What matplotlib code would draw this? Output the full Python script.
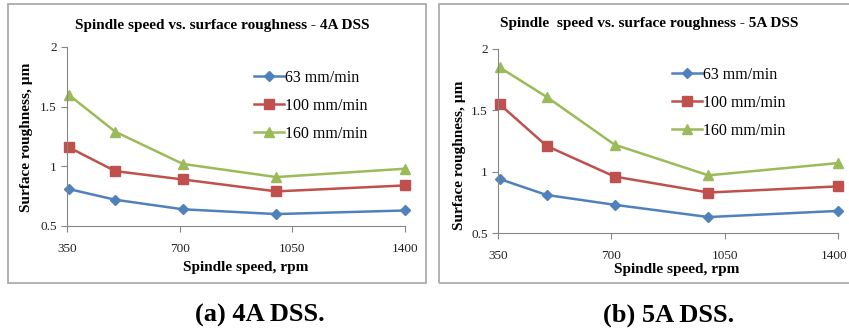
import matplotlib
matplotlib.use("Agg")
import matplotlib.pyplot as plt
from matplotlib.patches import Rectangle
from matplotlib.transforms import ScaledTranslation

plt.rcParams['font.family'] = ['Liberation Serif', 'DejaVu Serif']

# spindle speeds (rpm)
speeds = [355, 500, 710, 1000, 1400]
feeds = ["63 mm/min", "100 mm/min", "160 mm/min"]

# surface roughness, um - 4A DSS
ra_4a_63 = [0.81, 0.72, 0.64, 0.60, 0.63]
ra_4a_100 = [1.16, 0.96, 0.89, 0.79, 0.84]
ra_4a_160 = [1.60, 1.29, 1.02, 0.91, 0.98]

# surface roughness, um - 5A DSS
ra_5a_63 = [0.94, 0.81, 0.73, 0.63, 0.68]
ra_5a_100 = [1.55, 1.21, 0.96, 0.83, 0.88]
ra_5a_160 = [1.85, 1.61, 1.22, 0.97, 1.07]

xticks = [350, 700, 1050, 1400]
yticks = [0.5, 1, 1.5, 2]

colors = ["#4F81BD", "#C0504D", "#9BBB59"]
markers = ["D", "s", "^"]
msizes = [5.5, 7, 7.5]

W, H = 849, 328
fig = plt.figure(figsize=(W / 100, H / 100), dpi=100)


def px(x0, y0, x1, y1):
    # pixel box -> figure fraction [left, bottom, width, height]
    return [x0 / W, 1 - y1 / H, (x1 - x0) / W, (y1 - y0) / H]


# panel frames
for (x0, y0, x1, y1) in [(8, 4, 426, 283), (439, 4, 860, 283)]:
    fig.patches.append(Rectangle((x0 / W, 1 - y1 / H), (x1 - x0) / W, (y1 - y0) / H,
                                 transform=fig.transFigure, fill=False,
                                 edgecolor="#A6A6A6", linewidth=1.2))

panels = [
    dict(box=(67, 47, 405, 226), data=[ra_4a_63, ra_4a_100, ra_4a_160],
         title="Spindle speed vs. surface roughness - 4A DSS", tpos=(222, 25),
         xl=(246, 268), yl=(27, 137), leg=(254, 70), cap="(a) 4A DSS.", cpos=(260, 315)),
    dict(box=(498, 49, 838, 233), data=[ra_5a_63, ra_5a_100, ra_5a_160],
         title="Spindle  speed vs. surface roughness - 5A DSS", tpos=(649, 23),
         xl=(677, 269), yl=(460, 155), leg=(672, 67), cap="(b) 5A DSS.", cpos=(669, 315)),
]

axes = []
for p in panels:
    ax = fig.add_axes(px(*p["box"]))
    axes.append(ax)
    for vals, lab, c, m, ms in zip(p["data"], feeds, colors, markers, msizes):
        ax.plot(speeds, vals, color=c, marker=m, markersize=ms, linewidth=1.8,
                label=lab, clip_on=False)
    ax.set_xlim(350, 1400)
    ax.set_ylim(0.5, 2)
    ax.set_xticks(xticks)
    ax.set_yticks(yticks)
    ax.set_yticklabels(["0.5", "1", "1.5", "2"])
    for s in ["top", "right"]:
        ax.spines[s].set_visible(False)
    for s in ["left", "bottom"]:
        ax.spines[s].set_color("#868686")
    ax.tick_params(colors="#868686", labelcolor="#222222", labelsize=9.5, length=4, width=0.8)
    ax.tick_params(axis="x", pad=8)

    ax.legend(loc="upper left", bbox_to_anchor=(p["leg"][0] / W, 1 - p["leg"][1] / H),
              bbox_transform=fig.transFigure, frameon=False, fontsize=11.5,
              handlelength=1.9, handletextpad=0.05, labelspacing=0.75, borderpad=0,
              borderaxespad=0)

    fig.text(p["tpos"][0] / W, 1 - p["tpos"][1] / H, p["title"], ha="center", va="center",
             fontsize=11, fontweight="bold")
    fig.text(p["xl"][0] / W, 1 - p["xl"][1] / H, "Spindle speed, rpm", ha="center",
             va="center", fontsize=11, fontweight="bold")
    fig.text(p["yl"][0] / W, 1 - p["yl"][1] / H, "Surface roughness, \u00b5m", ha="center",
             va="center", rotation=90, fontsize=11, fontweight="bold")
    fig.text(p["cpos"][0] / W, 1 - p["cpos"][1] / H, p["cap"], ha="center", va="center",
             fontsize=19, fontweight="bold")

# the last tick label of the right panel sits against the edge, nudge it in a little
last = axes[1].get_xticklabels()[-1]
last.set_transform(last.get_transform() + ScaledTranslation(-0.04, 0, fig.dpi_scale_trans))

fig.savefig("out.png", dpi=100)
